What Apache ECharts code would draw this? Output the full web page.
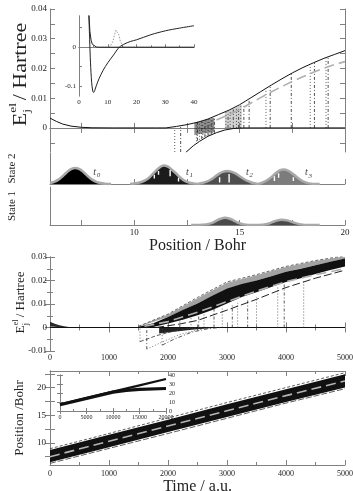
<!DOCTYPE html>
<html><head><meta charset="utf-8">
<script src="https://cdn.jsdelivr.net/npm/echarts@6/dist/echarts.min.js"></script>
<style>html,body{margin:0;padding:0;background:#fff}#c{width:353px;height:491px}</style>
</head><body><div id="c"></div>
<script>
// ================= DATA =================
// Top panel: electronic energies vs position (Bohr)
const posTickLabels = [10, 15, 20];
const posTicks = [7.5, 10, 12.5, 15, 17.5, 20];
const eTopLabels = [0, 0.01, 0.02, 0.03, 0.04];
const eTopTicks = [-0.005, 0, 0.005, 0.01, 0.015, 0.02, 0.025, 0.03, 0.035, 0.04];

const upperX = [6, 6.3, 6.6, 7, 7.5, 8, 9, 10, 11, 11.5, 12, 12.5, 13, 13.5, 14, 14.5, 15, 15.5, 16, 16.5, 17, 17.5, 18, 18.5, 19, 19.5, 20];
const upperE = [0.0033, 0.0022, 0.0013, 0.0006, 0.0002, 0.00005, 0, 0, 0, 0, 0.0005, 0.0011, 0.0019, 0.003, 0.0045, 0.006, 0.0078, 0.0100, 0.0122, 0.0144, 0.0165, 0.0185, 0.0203, 0.0219, 0.0234, 0.0247, 0.026];
const lowerX = [12.45, 12.8, 13.1, 13.5, 13.9, 14.3, 14.7, 15.2, 20];
const lowerE = [-0.0082, -0.006, -0.0045, -0.0028, -0.0016, -0.0007, -0.0002, 0, 0];
const meanX = [13.9, 14.5, 15, 15.5, 16, 16.5, 17, 17.5, 18, 18.5, 19, 19.5, 20];
const meanE = [0.0027, 0.0045, 0.0062, 0.0082, 0.0102, 0.0121, 0.0139, 0.0156, 0.0172, 0.0187, 0.0201, 0.0213, 0.0223];
// dense clusters of trajectories near the crossing
const clusterAX = [12.85, 13.2, 13.5, 13.8];
const clusterALo = [-0.0024, -0.002, -0.0017, -0.0013];
const clusterAHi = [0.0017, 0.0022, 0.0028, 0.0034];
const clusterBX = [14.3, 14.7, 15.1];
const clusterBLo = [0, 0, 0];
const clusterBHi = [0.0052, 0.0065, 0.0078];

const hopDotX = [11.92, 12.95, 13.1, 13.25, 13.4, 13.55, 13.7, 14.35, 14.55, 14.85, 15.05, 16.25, 18.35, 19.1];
const hopDotLo = [-0.0081, -0.0045, -0.004, -0.0034, -0.0028, -0.0023, -0.0018, 0, 0, 0, 0, 0, 0, 0];
const hopDotHi = [0, 0.002, 0.0022, 0.0025, 0.0028, 0.0031, 0.0034, 0.0053, 0.0058, 0.0067, 0.0074, 0.0128, 0.0205, 0.0233];
const hopDashX = [12.2, 13.0, 13.2, 13.35, 13.5, 13.65, 13.8, 14.45, 14.7, 14.95, 15.2, 15.45, 16.45, 17.45, 18.55, 19.2];
const hopDashLo = [-0.0081, -0.0043, -0.0037, -0.0031, -0.0027, -0.0022, -0.0017, 0, 0, 0, 0, 0, 0, 0, 0, 0];
const hopDashHi = [0.0003, 0.0021, 0.0023, 0.0026, 0.003, 0.0033, 0.0037, 0.0055, 0.0062, 0.0071, 0.0078, 0.0093, 0.0138, 0.0184, 0.022, 0.0235];

// Top inset: potential curves over 0..40 Bohr
const insetX1 = [3.4, 3.7, 4.0, 4.4, 4.8, 5.1, 5.5, 6, 7, 8.4, 10, 12, 14, 16, 18, 20, 25, 30, 35, 40];
const insetE1 = [0.09, 0.02, -0.04, -0.09, -0.113, -0.116, -0.11, -0.099, -0.08, -0.059, -0.04, -0.02, 0, 0.009, 0.015, 0.019, 0.032, 0.042, 0.049, 0.055];
const insetX2 = [3.4, 3.8, 4.2, 4.6, 5, 6, 7, 40];
const insetE2 = [0.09, 0.04, 0.018, 0.008, 0.003, 0.0005, 0, 0];
const insetXc = [6, 10, 11, 11.8, 12.4, 12.8, 13.1, 13.4, 13.8, 14.4, 15.2, 16, 40];
const insetC = [0, 0, 0.004, 0.015, 0.033, 0.044, 0.047, 0.044, 0.033, 0.015, 0.004, 0, 0];

// Wavepacket densities (State 2 / State 1)
const t0X = [6.0, 6.2, 6.4, 6.6, 6.8, 7.0, 7.2, 7.4, 7.6, 7.8, 8.0, 8.2, 8.4, 8.6, 8.9];
const t0D = [0.03, 0.07, 0.14, 0.25, 0.38, 0.48, 0.52, 0.48, 0.38, 0.25, 0.14, 0.07, 0.03, 0.01, 0];
const t1X = [9.8, 10.2, 10.4, 10.6, 10.8, 11.0, 11.2, 11.4, 11.6, 11.8, 12.0, 12.2, 12.4, 12.6, 12.8, 13.0];
const t1D = [0, 0.04, 0.08, 0.15, 0.27, 0.41, 0.53, 0.6, 0.56, 0.45, 0.33, 0.2, 0.1, 0.05, 0.02, 0];
const t2X = [13.0, 13.2, 13.4, 13.6, 13.8, 14.0, 14.2, 14.4, 14.6, 14.8, 15.0, 15.2, 15.4, 15.6, 15.8, 16.0];
const t2D = [0, 0.03, 0.07, 0.13, 0.22, 0.32, 0.39, 0.42, 0.40, 0.34, 0.25, 0.16, 0.09, 0.04, 0.01, 0];
const t3X = [15.9, 16.1, 16.3, 16.5, 16.7, 16.9, 17.1, 17.3, 17.5, 17.7, 17.9, 18.1, 18.3, 18.6, 18.8];
const t3D = [0, 0.05, 0.12, 0.22, 0.34, 0.44, 0.47, 0.43, 0.34, 0.23, 0.13, 0.06, 0.02, 0, 0];
const s1X = [12.7, 13.4, 13.7, 13.9, 14.1, 14.3, 14.5, 14.7, 14.9, 15.2, 15.6, 16.1, 16.4, 16.7, 17.0, 17.3, 17.6, 17.9, 18.3, 18.8];
const s1D = [0, 0.02, 0.07, 0.14, 0.2, 0.23, 0.21, 0.15, 0.08, 0.02, 0, 0.01, 0.05, 0.13, 0.17, 0.14, 0.07, 0.02, 0, 0];
// white histogram gaps inside the packets
const gapX = [10.95, 11.15, 11.7, 12.1, 14.05, 14.5, 16.65, 16.85, 17.55];
const gapLo = [0.18, 0.3, 0.25, 0.08, 0.05, 0.05, 0.1, 0.2, 0.1];
const gapHi = [0.3, 0.42, 0.45, 0.2, 0.22, 0.32, 0.25, 0.35, 0.22];
const tLabelNames = ['0', '1', '2', '3'];
const tLabelX = [8.05, 12.45, 15.3, 18.1];
const tLabelD = [0.38, 0.38, 0.38, 0.36];

// Middle panel: energies vs time
const earlyT = [0, 80, 160, 240, 320, 450];
const earlyHi = [0.0025, 0.0016, 0.001, 0.0005, 0.0002, 0];
const earlyLo = [0.0004, 0.0003, 0.0001, 0, 0, 0];
const coreT = [1500, 1750, 2000, 2250, 2500, 2750, 3000, 3250, 3500, 3750, 4000, 4250, 4500, 4750, 5000];
const coreHi = [0.0003, 0.0018, 0.0045, 0.0075, 0.0102, 0.0135, 0.0166, 0.0185, 0.020, 0.0218, 0.0237, 0.025, 0.0265, 0.028, 0.0294];
const coreLo = [0, 0.0002, 0.0017, 0.0033, 0.0052, 0.0075, 0.0102, 0.013, 0.015, 0.0172, 0.0194, 0.021, 0.0228, 0.0245, 0.026];
const fringeTopT = [1500, 2000, 2500, 3000, 3500, 4000, 4500, 5000];
const fringeTopE = [0.0005, 0.0057, 0.0128, 0.0194, 0.0225, 0.026, 0.0285, 0.0305];
const haloT = [1500, 2000, 2500, 3000, 3500, 4000, 4500, 5000];
const haloLo = [0.0003, 0.0045, 0.0102, 0.0166, 0.020, 0.0237, 0.0265, 0.0294];
const haloHi = [0.0005, 0.0055, 0.0124, 0.019, 0.0222, 0.0257, 0.0283, 0.0303];
const fringeBotT = [1800, 2200, 2500, 3000, 3500, 4000, 4500, 5000];
const fringeBotE = [0, 0.0015, 0.003, 0.0074, 0.012, 0.017, 0.021, 0.0244];
const meanMidT = [1600, 2000, 2500, 3000, 3500, 4000, 4500, 5000];
const meanMidE = [0.0005, 0.0025, 0.0065, 0.011, 0.0155, 0.0195, 0.0225, 0.025];
const lowBandT = [1850, 2100, 2400, 2700, 2900];
const lowBandLo = [-0.0025, -0.0018, -0.001, -0.0003, 0];
const lowBandHi = [0, 0, 0, 0, 0];
const negAT = [1525, 1800, 2100, 2400, 2600];
const negAE = [-0.006, -0.0035, -0.0015, -0.0003, 0];
const negBT = [1640, 1900, 2200, 2500, 2700];
const negBE = [-0.0092, -0.0062, -0.003, -0.001, 0];
const negCT = [1900, 2100, 2400, 2700, 2900];
const negCE = [-0.0075, -0.005, -0.002, -0.0004, 0];
const midHopDotT = [1525, 1900, 2390, 2610, 2920, 3180, 3500, 3860, 4300];
const midHopDotLo = [-0.006, -0.0075, -0.0003, 0, 0, 0, 0, 0, 0];
const midHopDotHi = [0.0003, 0.003, 0.0065, 0.0075, 0.009, 0.0105, 0.013, 0.0172, 0.0198];
const midHopDashT = [1640, 2200, 2520, 2780, 3090, 3350, 3970];
const midHopDashLo = [-0.0092, 0, 0, 0, 0, 0, 0];
const midHopDashHi = [0.0012, 0.0055, 0.0068, 0.0085, 0.0098, 0.0123, 0.0183];

// Bottom panel: position vs time
const posT = [0, 1000, 2000, 3000, 4000, 5000];
const posHi = [8.7, 11.45, 14.2, 17.0, 19.7, 22.4];
const posLo = [6.5, 9.2, 11.95, 14.7, 17.4, 20.0];
const posOuterHi = [8.95, 11.7, 14.5, 17.3, 20.0, 22.7];
const posOuterLo = [6.3, 9.0, 11.7, 14.45, 17.2, 19.8];
const posMean = [7.5, 10.3, 13.05, 15.8, 18.55, 21.2];
const posTicksY = [7.5, 10, 12.5, 15, 17.5, 20, 22.5];
const posLabelsY = [10, 15, 20];
// Bottom inset: long-time positions
const longT = [0, 5000, 10000, 15000, 20000];
const longUpper = [7.5, 14.5, 21.5, 28.5, 35.5];
const longLowerT = [0, 5000, 10000, 12500, 15000, 20000];
const longLower = [7, 14, 21, 23, 24, 25];

// ================= CHART =================
const FONT = '"Liberation Serif","Times New Roman",serif';
const AX = '#808080';
const TXT = '#222';
const chart = echarts.init(document.getElementById('c'), null, {renderer: 'canvas'});

const grids = [
  {left: 50, top: 9, width: 295, height: 143},    // 0 top
  {left: 50, top: 153, width: 295, height: 31},   // 1 state 2
  {left: 50, top: 187, width: 295, height: 38},   // 2 state 1
  {left: 79, top: 16, width: 115, height: 80},    // 3 inset top
  {left: 50, top: 257, width: 295, height: 94},   // 4 middle
  {left: 50, top: 371, width: 295, height: 94},   // 5 bottom
  {left: 60, top: 375, width: 106, height: 36}    // 6 inset bottom
].map(g => Object.assign({outerBoundsMode: 'none', containLabel: false, show: false}, g));

const line = {show: true, lineStyle: {color: AX, width: 1}};
const noLine = {show: false};
function lbl(size, extra) { return Object.assign({color: TXT, fontFamily: FONT, fontSize: size}, extra || {}); }
function tick(len, extra) { return Object.assign({show: true, inside: true, length: len, lineStyle: {color: AX}}, extra || {}); }
function fmt(v) { return v === 0 ? '0' : String(+v.toFixed(4)); }
function plain(v) { return String(v); }

const xAxis = [
  // 0,1 top panel
  {gridIndex: 0, type: 'value', min: 6, max: 20, axisLine: line, splitLine: noLine,
   axisTick: tick(5, {customValues: posTicks}), axisLabel: {show: false}},
  {gridIndex: 0, type: 'value', position: 'top', min: 6, max: 20, axisLine: line, splitLine: noLine,
   axisTick: tick(5, {customValues: posTicks}), axisLabel: {show: false}},
  // 2 state 2
  {gridIndex: 1, type: 'value', min: 6, max: 20, axisLine: line, splitLine: noLine,
   axisTick: tick(5, {customValues: posTicks}), axisLabel: {show: false}},
  // 3 state 1
  {gridIndex: 2, type: 'value', min: 6, max: 20, axisLine: line, splitLine: noLine,
   axisTick: tick(5, {customValues: posTicks}),
   axisLabel: lbl(9, {customValues: posTickLabels, margin: 3, formatter: plain}),
   name: 'Position / Bohr', nameLocation: 'middle', nameGap: 11,
   nameTextStyle: {fontFamily: FONT, fontSize: 16, color: TXT}},
  // 4,5 inset top
  {gridIndex: 3, type: 'value', min: 0, max: 40, interval: 10, axisLine: line, splitLine: noLine,
   axisTick: tick(3), minorTick: {show: true, splitNumber: 2, length: 2, lineStyle: {color: AX}},
   axisLabel: lbl(7, {margin: 3, formatter: plain})},
  {gridIndex: 3, type: 'value', position: 'top', min: 0, max: 40, interval: 10, axisLine: line, splitLine: noLine,
   axisTick: {show: false}, axisLabel: {show: false}},
  // 6,7 middle
  {gridIndex: 4, type: 'value', min: 0, max: 5000, interval: 1000, axisLine: line, splitLine: noLine,
   axisTick: tick(5), minorTick: {show: true, splitNumber: 2, length: 3, lineStyle: {color: AX}},
   axisLabel: lbl(8, {margin: 3, formatter: plain})},
  {gridIndex: 4, type: 'value', position: 'top', min: 0, max: 5000, interval: 1000, axisLine: line, splitLine: noLine,
   axisTick: tick(5), minorTick: {show: true, splitNumber: 2, length: 3, lineStyle: {color: AX}}, axisLabel: {show: false}},
  // 8,9 bottom
  {gridIndex: 5, type: 'value', min: 0, max: 5000, interval: 1000, axisLine: line, splitLine: noLine,
   axisTick: tick(5), minorTick: {show: true, splitNumber: 2, length: 3, lineStyle: {color: AX}},
   axisLabel: lbl(8, {margin: 5, formatter: plain}),
   name: 'Time / a.u.', nameLocation: 'middle', nameGap: 12,
   nameTextStyle: {fontFamily: FONT, fontSize: 16, color: TXT}},
  {gridIndex: 5, type: 'value', position: 'top', min: 0, max: 5000, interval: 1000, axisLine: line, splitLine: noLine,
   axisTick: tick(5), minorTick: {show: true, splitNumber: 2, length: 3, lineStyle: {color: AX}}, axisLabel: {show: false}},
  // 10,11 inset bottom
  {gridIndex: 6, type: 'value', min: 0, max: 20000, interval: 5000, axisLine: line, splitLine: noLine,
   axisTick: tick(3), minorTick: {show: true, splitNumber: 2, length: 2, lineStyle: {color: AX}},
   axisLabel: lbl(6, {margin: 3, formatter: plain})},
  {gridIndex: 6, type: 'value', position: 'top', min: 0, max: 20000, interval: 5000, axisLine: line, splitLine: noLine,
   axisTick: tick(3), axisLabel: {show: false}}
];

const yAxis = [
  // 0,1 top panel
  {gridIndex: 0, type: 'value', min: -0.0081, max: 0.04, axisLine: line, splitLine: noLine,
   axisTick: tick(5, {customValues: eTopTicks}), axisLabel: lbl(9, {customValues: eTopLabels, margin: 3, formatter: fmt})},
  {gridIndex: 0, type: 'value', position: 'right', min: -0.0081, max: 0.04, axisLine: line, splitLine: noLine,
   axisTick: tick(5, {customValues: eTopTicks}), axisLabel: {show: false}},
  // 2 state 2
  {gridIndex: 1, type: 'value', min: 0, max: 1, axisLine: line, splitLine: noLine, axisTick: {show: false}, axisLabel: {show: false},
   name: 'State 2', nameLocation: 'middle', nameGap: 32, nameTextStyle: {fontFamily: FONT, fontSize: 11, color: TXT}},
  // 3 state 1
  {gridIndex: 2, type: 'value', min: 0, max: 1.22, axisLine: line, splitLine: noLine, axisTick: {show: false}, axisLabel: {show: false},
   name: 'State 1', nameLocation: 'middle', nameGap: 32, nameTextStyle: {fontFamily: FONT, fontSize: 11, color: TXT}},
  // 4,5 inset top
  {gridIndex: 3, type: 'value', min: -0.125, max: 0.08, axisLine: line, splitLine: noLine,
   axisTick: tick(3, {customValues: [-0.1, -0.05, 0, 0.05]}), axisLabel: lbl(7, {customValues: [-0.1, 0], margin: 3, formatter: fmt})},
  {gridIndex: 3, type: 'value', position: 'right', min: -0.125, max: 0.08, axisLine: line, splitLine: noLine,
   axisTick: {show: false}, axisLabel: {show: false}},
  // 6,7 middle
  {gridIndex: 4, type: 'value', min: -0.01, max: 0.03, interval: 0.01, axisLine: line, splitLine: noLine,
   axisTick: tick(5), minorTick: {show: true, splitNumber: 2, length: 3, lineStyle: {color: AX}},
   axisLabel: lbl(9, {margin: 3, formatter: fmt})},
  {gridIndex: 4, type: 'value', position: 'right', min: -0.01, max: 0.03, interval: 0.01, axisLine: line, splitLine: noLine,
   axisTick: tick(5), minorTick: {show: true, splitNumber: 2, length: 3, lineStyle: {color: AX}}, axisLabel: {show: false}},
  // 8,9 bottom
  {gridIndex: 5, type: 'value', min: 6, max: 23, axisLine: line, splitLine: noLine,
   axisTick: tick(5, {customValues: posTicksY}), axisLabel: lbl(9, {customValues: posLabelsY, margin: 4, formatter: plain}),
   name: 'Position /Bohr', nameLocation: 'middle', nameGap: 16,
   nameTextStyle: {fontFamily: FONT, fontSize: 13, color: TXT}},
  {gridIndex: 5, type: 'value', position: 'right', min: 6, max: 23, axisLine: line, splitLine: noLine,
   axisTick: tick(5, {customValues: posTicksY}), axisLabel: {show: false}},
  // 10,11 inset bottom
  {gridIndex: 6, type: 'value', min: 0, max: 40, interval: 10, axisLine: line, splitLine: noLine,
   axisTick: tick(3), axisLabel: {show: false}},
  {gridIndex: 6, type: 'value', position: 'right', min: 0, max: 40, interval: 10, axisLine: line, splitLine: noLine,
   axisTick: tick(3), axisLabel: lbl(6, {margin: 3, formatter: plain})}
];

function ln(ax, xs, ys, color, width, type, z) {
  return {type: 'line', xAxisIndex: ax, yAxisIndex: ax, data: xs.map((x, i) => [x, ys[i]]),
    symbol: 'none', showSymbol: false, silent: true, animation: false, clip: true,
    lineStyle: {color: color, width: width, type: type || 'solid'}, z: z || 3};
}
function segs(ax, xs, lo, hi, color, width, type, z) {
  const d = [];
  xs.forEach((x, i) => { d.push([x, lo[i]], [x, hi[i]], [x, '-']); });
  return {type: 'line', xAxisIndex: ax, yAxisIndex: ax, data: d, connectNulls: false,
    symbol: 'none', showSymbol: false, silent: true, animation: false, clip: true,
    lineStyle: {color: color, width: width, type: type}, z: z || 2};
}
function band(ax, xs, lo, hi, fill, z, opacity) {
  return {type: 'custom', xAxisIndex: ax, yAxisIndex: ax, data: [[xs[0], lo[0]]], silent: true, animation: false, clip: true, z: z || 2,
    renderItem: function (params, api) {
      const pts = [];
      xs.forEach((x, i) => pts.push(api.coord([x, hi[i]])));
      for (let i = xs.length - 1; i >= 0; i--) pts.push(api.coord([xs[i], lo[i]]));
      return {type: 'polygon', shape: {points: pts}, style: {fill: fill, opacity: opacity == null ? 1 : opacity}};
    }};
}
function packet(ax, xs, ds, fill, z) {
  return {type: 'line', xAxisIndex: ax, yAxisIndex: ax, data: xs.map((x, i) => [x, ds[i]]), smooth: 0.4,
    symbol: 'none', showSymbol: false, silent: true, animation: false,
    lineStyle: {color: '#a9a9a9', width: 2.5}, areaStyle: {color: fill, opacity: 1, origin: 'start'}, z: z || 3};
}

const series = [
  // top panel (axis index 0)
  band(0, clusterAX, clusterALo, clusterAHi, '#333', 1, 0.55),
  band(0, clusterBX, clusterBLo, clusterBHi, '#666', 1, 0.3),
  segs(0, hopDotX, hopDotLo, hopDotHi, '#333', 0.8, [1, 2], 2),
  segs(0, hopDashX, hopDashLo, hopDashHi, '#222', 0.8, [3, 2, 1, 2], 2),
  ln(0, upperX, upperE, '#111', 1, 'solid', 4),
  ln(0, lowerX, lowerE, '#111', 1, 'solid', 4),
  ln(0, meanX, meanE, '#b0b0b0', 1.6, [10, 5], 5),
  // top inset (axis index 4 -> grid 3)
  ln(4, insetXc, insetC, '#999', 1, [1.5, 1.5], 3),
  ln(4, insetX2, insetE2, '#222', 1, 'solid', 4),
  Object.assign(ln(4, insetX1, insetE1, '#222', 1, 'solid', 4), {smooth: 0.3}),
  // State 2 (x 2 / y 2)
  packet(2, t0X, t0D, '#000'),
  packet(2, t1X, t1D, '#1c1c1c'),
  packet(2, t2X, t2D, '#4e4e4e'),
  packet(2, t3X, t3D, '#7c7c7c'),
  segs(2, gapX, gapLo, gapHi, '#fff', 1.4, 'solid', 5),
  // State 1 (x 3 / y 3)
  packet(3, s1X, s1D, '#4a4a4a'),
  // middle panel (x 6 / y 6)
  band(6, earlyT, earlyLo, earlyHi, '#2a2a2a', 2),
  ln(6, [0, 5000], [0, 0], '#111', 1, 'solid', 2),
  band(6, lowBandT, lowBandLo, lowBandHi, '#222', 2),
  ln(6, negAT, negAE, '#333', 0.8, [4, 2], 3),
  ln(6, negBT, negBE, '#555', 0.8, [1, 2], 3),
  ln(6, negCT, negCE, '#333', 0.8, [4, 2, 1, 2], 3),
  segs(6, midHopDotT, midHopDotLo, midHopDotHi, '#444', 0.8, [1, 2], 2),
  segs(6, midHopDashT, midHopDashLo, midHopDashHi, '#333', 0.8, [3, 2, 1, 2], 2),
  band(6, haloT, haloLo, haloHi, '#555', 2, 0.55),
  band(6, coreT, coreLo, coreHi, '#111', 3),
  ln(6, fringeTopT, fringeTopE, '#444', 0.8, [3, 2], 3),
  ln(6, fringeBotT, fringeBotE, '#222', 1, [8, 3], 3),
  ln(6, meanMidT, meanMidE, '#b0b0b0', 1.6, [10, 5], 5),
  // bottom panel (x 8 / y 8)
  band(8, posT, posLo, posHi, '#111', 2),
  ln(8, posT, posOuterHi, '#333', 0.8, [3, 2], 3),
  ln(8, posT, posOuterLo, '#333', 0.8, [6, 2], 3),
  ln(8, posT, posMean, '#b5b5b5', 1.6, [10, 5], 5),
  // bottom inset (x 10 / y 10)
  ln(10, longT, longUpper, '#111', 2.2, 'solid', 6),
  ln(10, longLowerT, longLower, '#111', 3.2, 'solid', 6)
];

function yTitle(cx, cy, big, small, sx) {
  const f = {fontFamily: FONT, fill: TXT, align: 'left', verticalAlign: 'middle'};
  const wE = big * 0.62, wS = small * 0.75;
  const total = wE + wS + big * 3.6;
  const x0 = -total / 2;
  return {type: 'group', x: cx, y: cy, rotation: Math.PI / 2, scaleX: sx, scaleY: 1, children: [
    {type: 'text', x: x0, y: 0, style: Object.assign({text: 'E', fontSize: big}, f)},
    {type: 'text', x: x0 + wE, y: -big * 0.42, style: Object.assign({text: 'el', fontSize: small}, f)},
    {type: 'text', x: x0 + wE, y: big * 0.34, style: Object.assign({text: 'j', fontSize: small}, f)},
    {type: 'text', x: x0 + wE + wS + 2, y: 0, style: Object.assign({text: '/ Hartree', fontSize: big}, f)}
  ]};
}

chart.setOption({
  animation: false,
  backgroundColor: '#fff',
  textStyle: {fontFamily: FONT},
  grid: grids, xAxis: xAxis, yAxis: yAxis, series: series
});

// annotations placed through the axes' own scales
const gr = [yTitle(21, 75, 18, 11, 1.22), yTitle(21, 303, 13, 8, 1.0)];
tLabelX.forEach((x, i) => {
  const p = chart.convertToPixel({xAxisIndex: 2, yAxisIndex: 2}, [x, tLabelD[i]]);
  gr.push({type: 'group', x: p[0], y: p[1], children: [
    {type: 'text', x: 0, y: 0, style: {text: 't', fontFamily: FONT, fontStyle: 'italic', fontSize: 10, fill: '#444', verticalAlign: 'middle'}},
    {type: 'text', x: 3.5, y: 3, style: {text: tLabelNames[i], fontFamily: FONT, fontStyle: 'italic', fontSize: 7, fill: '#444', verticalAlign: 'middle'}}
  ]});
});
chart.setOption({graphic: gr});
</script>
</body></html>
